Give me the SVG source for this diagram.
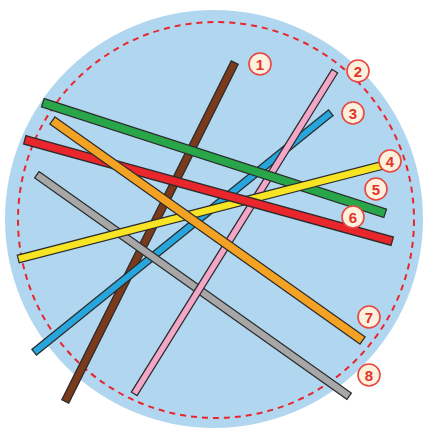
<svg xmlns="http://www.w3.org/2000/svg" width="425" height="429" viewBox="0 0 425 429">
<style>
.o{stroke:#2b2b2b;stroke-linecap:square;fill:none}
.c{stroke-linecap:square;fill:none}
.lb circle{fill:#fdf1dd;stroke:#e8453f;stroke-width:1.6}
.lb text{font-family:"Liberation Sans",Arial,sans-serif;font-weight:bold;font-size:15px;fill:#e2332c;text-anchor:middle;dominant-baseline:central}
</style>
<rect width="425" height="429" fill="#ffffff"/>
<circle id="plate" cx="214" cy="219" r="209" fill="#b1d7f0"/>
<circle id="boundary" cx="216" cy="220" r="198" fill="none" stroke="#e8262c" stroke-width="2" stroke-dasharray="6 5"/>
<g id="stick1">
<line class="o" x1="233" y1="66" x2="67" y2="398" stroke-width="9"/>
<line class="c" x1="233" y1="66" x2="67" y2="398" stroke="#7b3a1c" stroke-width="6.5"/>
</g>
<g id="stick3">
<line class="o" x1="328" y1="115" x2="37" y2="350" stroke-width="8.5"/>
<line class="c" x1="328" y1="115" x2="37" y2="350" stroke="#27a6de" stroke-width="6"/>
</g>
<g id="stick8">
<line class="o" x1="40" y1="177" x2="346" y2="394" stroke-width="9"/>
<line class="c" x1="40" y1="177" x2="346" y2="394" stroke="#a7a7a7" stroke-width="6.5"/>
</g>
<g id="stick2">
<line class="o" x1="333" y1="74" x2="136" y2="391" stroke-width="8"/>
<line class="c" x1="333" y1="74" x2="136" y2="391" stroke="#f2a6c8" stroke-width="5.5"/>
</g>
<g id="stick5">
<line class="o" x1="47" y1="104" x2="381" y2="212" stroke-width="10"/>
<line class="c" x1="47" y1="104" x2="381" y2="212" stroke="#2aa64a" stroke-width="7.5"/>
</g>
<g id="stick4">
<line class="o" x1="380" y1="166" x2="22" y2="258" stroke-width="9"/>
<line class="c" x1="380" y1="166" x2="22" y2="258" stroke="#f7e424" stroke-width="6.5"/>
</g>
<g id="stick6">
<line class="o" x1="29" y1="141" x2="388" y2="240" stroke-width="10"/>
<line class="c" x1="29" y1="141" x2="388" y2="240" stroke="#e8262c" stroke-width="7.5"/>
</g>
<g id="stick7">
<line class="o" x1="56" y1="123" x2="359" y2="338" stroke-width="10"/>
<line class="c" x1="56" y1="123" x2="359" y2="338" stroke="#f4a224" stroke-width="7.5"/>
</g>
<g id="label1" class="lb"><circle cx="260" cy="64" r="11"/><text x="260" y="64.5">1</text></g>
<g id="label2" class="lb"><circle cx="358" cy="71" r="11"/><text x="358" y="71.5">2</text></g>
<g id="label3" class="lb"><circle cx="353" cy="113" r="11"/><text x="353" y="113.5">3</text></g>
<g id="label4" class="lb"><circle cx="390" cy="161" r="11"/><text x="390" y="161.5">4</text></g>
<g id="label5" class="lb"><circle cx="376" cy="189" r="11"/><text x="376" y="189.5">5</text></g>
<g id="label6" class="lb"><circle cx="353" cy="217" r="11"/><text x="353" y="217.5">6</text></g>
<g id="label7" class="lb"><circle cx="369" cy="317" r="11"/><text x="369" y="317.5">7</text></g>
<g id="label8" class="lb"><circle cx="369" cy="375" r="11"/><text x="369" y="375.5">8</text></g>
</svg>
